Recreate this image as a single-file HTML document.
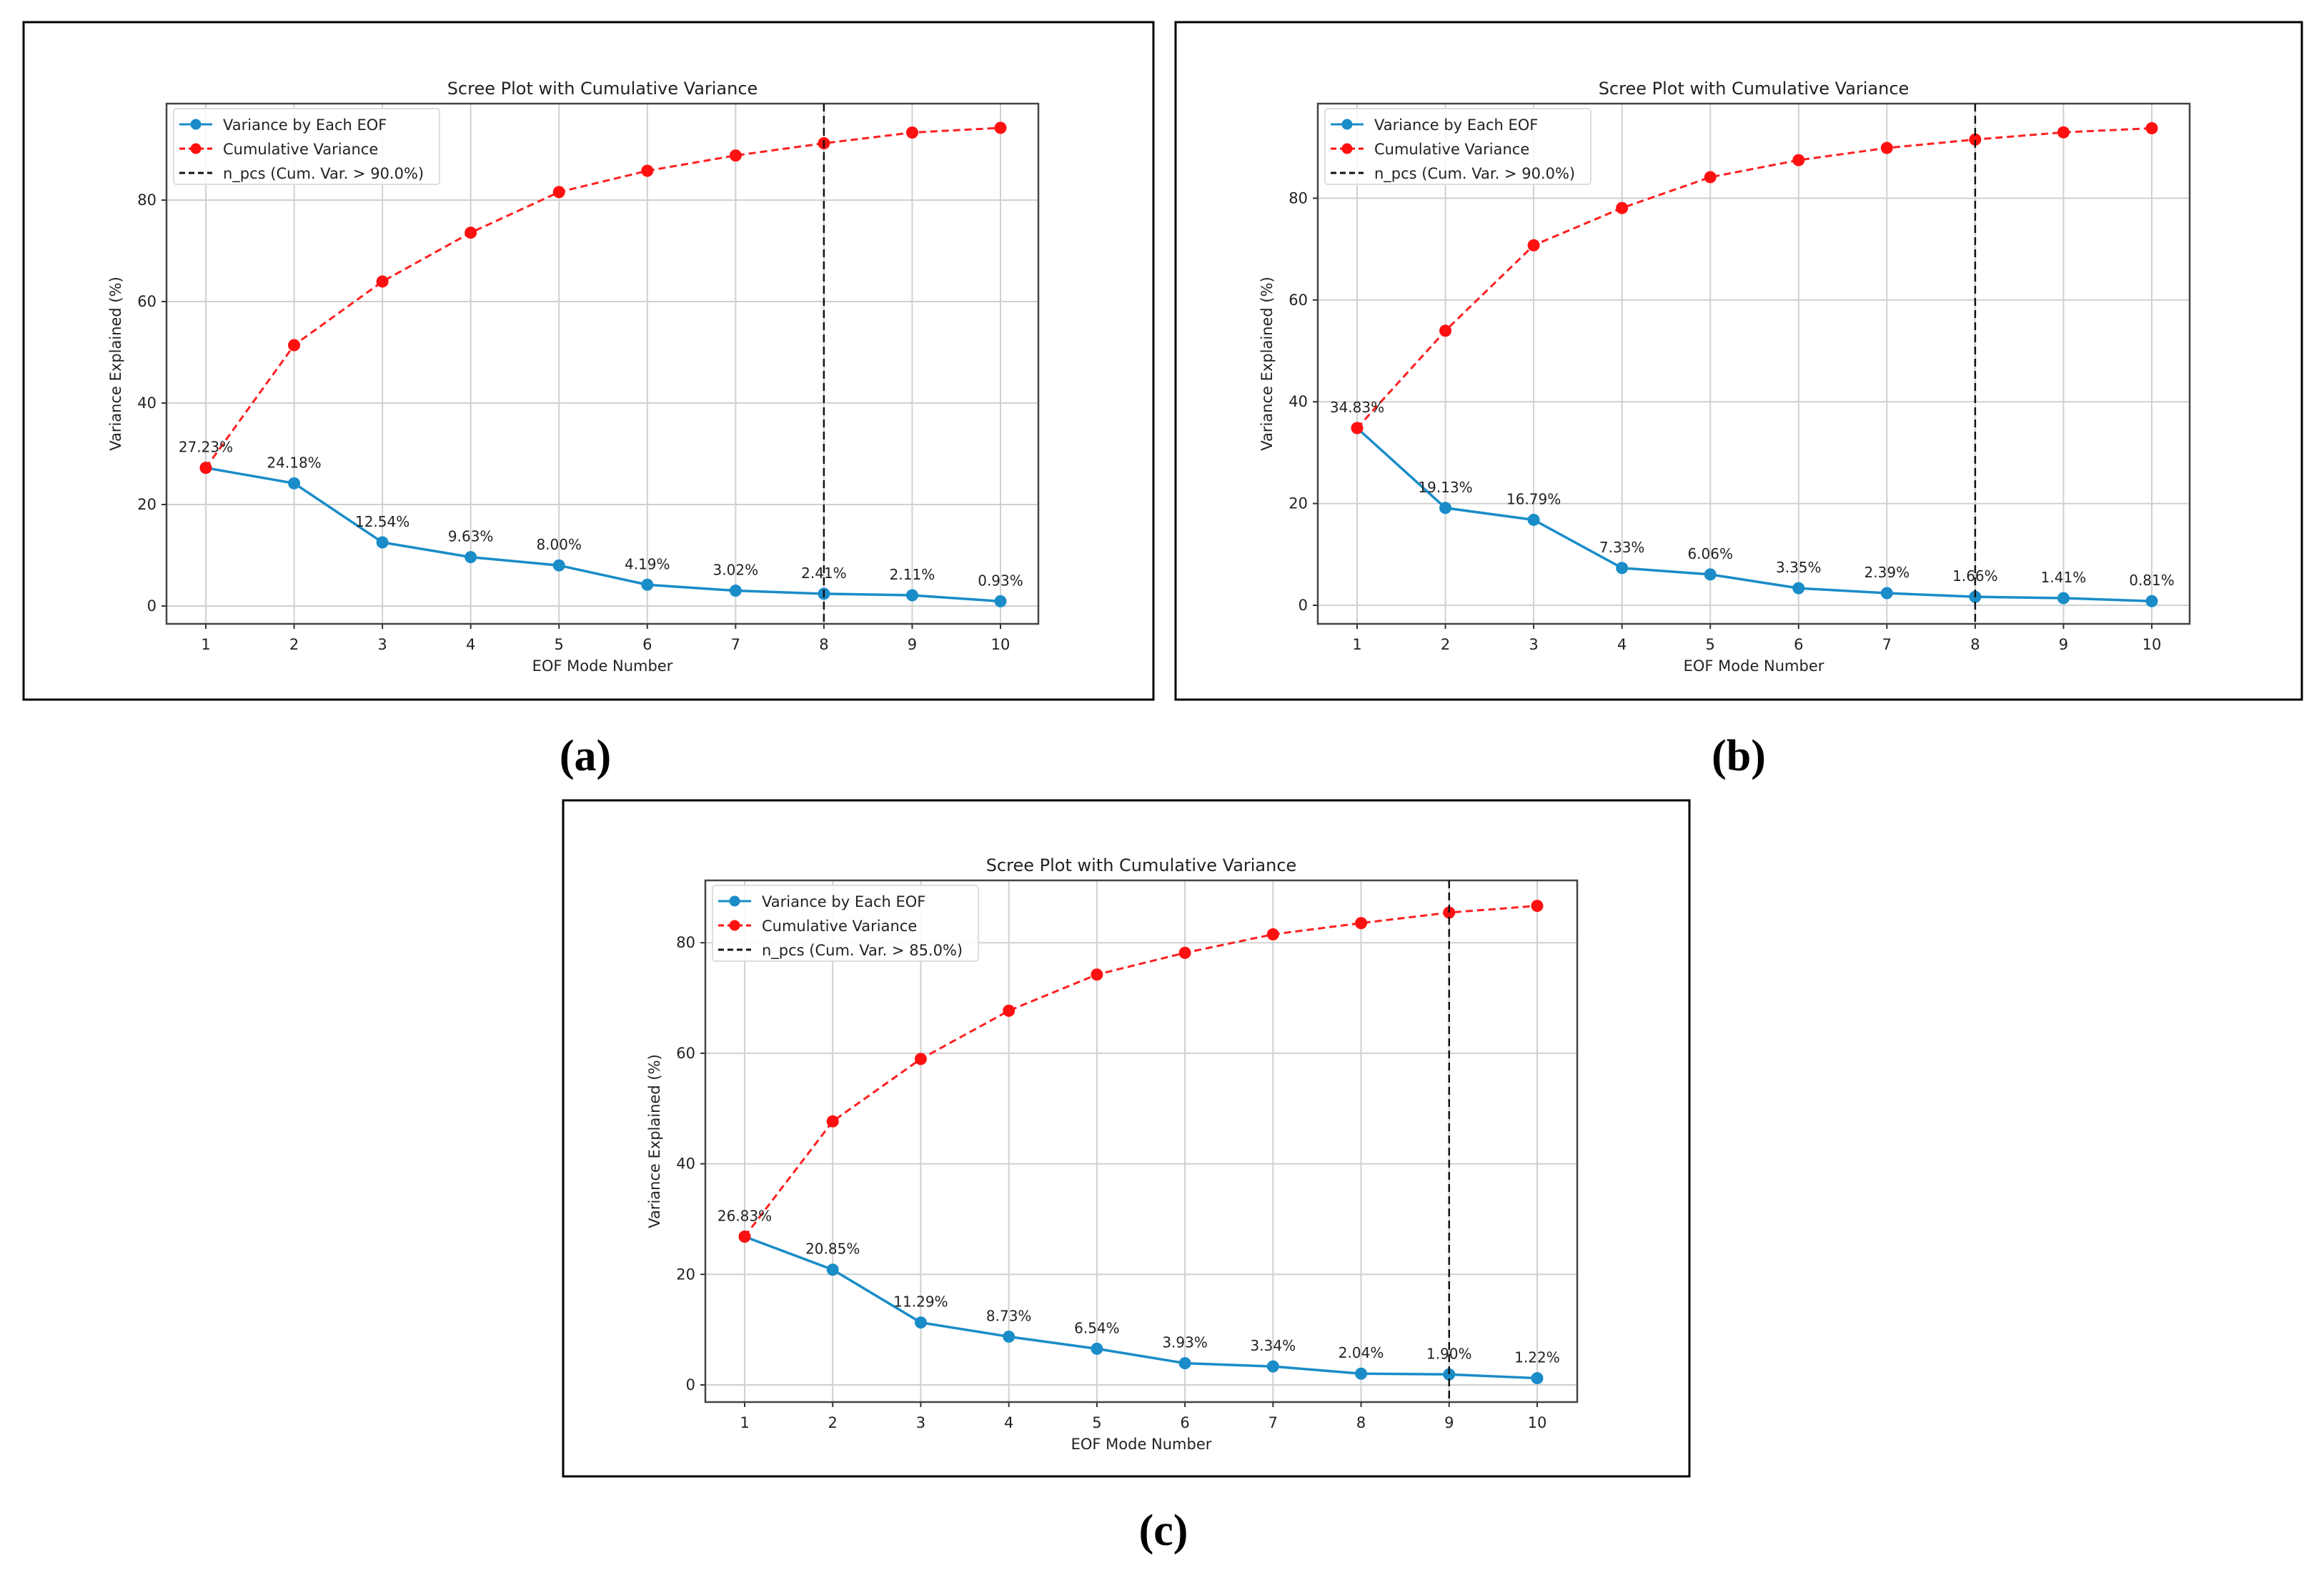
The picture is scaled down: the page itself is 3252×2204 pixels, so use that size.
<!DOCTYPE html>
<html><head><meta charset="utf-8"><style>
html,body{margin:0;padding:0;background:#fff;}
svg{display:block;font-family:"DejaVu Sans","Liberation Sans",sans-serif;}
</style></head><body>
<svg id="fig" width="3252" height="2204" viewBox="0 0 3252 2204" xmlns="http://www.w3.org/2000/svg"></svg>
<script>
const modes = [1,2,3,4,5,6,7,8,9,10];
const yTicks = [0,20,40,60,80];
const varA = [27.23,24.18,12.54,9.63,8.00,4.19,3.02,2.41,2.11,0.93];
const varB = [34.83,19.13,16.79,7.33,6.06,3.35,2.39,1.66,1.41,0.81];
const varC = [26.83,20.85,11.29,8.73,6.54,3.93,3.34,2.04,1.90,1.22];
const cutA = 8, cutB = 8, cutC = 9;
const thrA = "90.0", thrB = "90.0", thrC = "85.0";

const NS="http://www.w3.org/2000/svg";
const svg=document.getElementById('fig');
function mk(tag,attrs,parent,text){
  const e=document.createElementNS(NS,tag);
  for(const k in attrs) e.setAttribute(k,attrs[k]);
  if(text!==undefined) e.textContent=text;
  (parent||svg).appendChild(e);
  return e;
}
function panel(p){
  const g=mk('g',{});
  
  
  const box=mk('rect',{x:p.bx,y:p.by,width:p.bw,height:p.bh,fill:'#fff',stroke:'#000','stroke-width':3},g);
  
  
  const L=p.L,R=p.R,T=p.T,B=p.B;
  const xs=v=>p.x1+(v-1)*(p.x10-p.x1)/9;
  const ys=v=>p.y0-v*p.ppu;
  for(const m of modes){
    const l=mk('line',{x1:xs(m),x2:xs(m),y1:T,y2:B,stroke:'#d0d0d0','stroke-width':2},g);
    
    
    const t=mk('text',{x:xs(m),y:B+36,'font-size':21,'text-anchor':'middle',fill:'#222'},g,String(m));
    
    
    mk('line',{x1:xs(m),x2:xs(m),y1:B,y2:B+7,stroke:'#333','stroke-width':2},g);
  }
  for(const v of yTicks){
    const l=mk('line',{x1:L,x2:R,y1:ys(v),y2:ys(v),stroke:'#d0d0d0','stroke-width':2},g);
    
    
    mk('line',{x1:L-7,x2:L,y1:ys(v),y2:ys(v),stroke:'#333','stroke-width':2},g);
    const t=mk('text',{x:L-14,y:ys(v)+7,'font-size':21,'text-anchor':'end',fill:'#222'},g,String(v));
    
    
  }
  const ax=mk('rect',{x:L,y:T,width:R-L,height:B-T,fill:'none',stroke:'#444','stroke-width':2.5},g);
  
  
  const tt=mk('text',{x:(L+R)/2,y:T-13,'font-size':24,'text-anchor':'middle',fill:'#222'},g,'Scree Plot with Cumulative Variance');
  
  
  const xl=mk('text',{x:(L+R)/2,y:B+66,'font-size':21,'text-anchor':'middle',fill:'#222'},g,'EOF Mode Number');
  
  
  const yl=mk('text',{x:0,y:0,'font-size':21,'text-anchor':'middle',fill:'#222',transform:`translate(${L-64},${(T+B)/2}) rotate(-90)`},g,'Variance Explained (%)');
  
  
  const cum=[];let s=0;for(const v of p.vals){s+=v;cum.push(s);}
  const cl=mk('polyline',{points:modes.map((m,i)=>xs(m)+','+ys(cum[i])).join(' '),fill:'none',stroke:'#ff2020','stroke-width':3,'stroke-dasharray':'10,6'},g);
  
  
  const il=mk('polyline',{points:modes.map((m,i)=>xs(m)+','+ys(p.vals[i])).join(' '),fill:'none',stroke:'#1a8cc8','stroke-width':3.5},g);
  
  
  modes.forEach((m,i)=>{
    const c=mk('circle',{cx:xs(m),cy:ys(p.vals[i]),r:8.5,fill:'#1a8cc8'},g);
    
    
  });
  modes.forEach((m,i)=>{
    const c=mk('circle',{cx:xs(m),cy:ys(cum[i]),r:8.5,fill:'#ff1010'},g);
    
    
  });
  const cv=mk('line',{x1:xs(p.cut),x2:xs(p.cut),y1:T,y2:B,stroke:'#111','stroke-width':2.5,'stroke-dasharray':'11,6'},g);
  
  
  modes.forEach((m,i)=>{
    const t=mk('text',{x:xs(m),y:ys(p.vals[i])-22,'font-size':20,'text-anchor':'middle',fill:'#222'},g,p.vals[i].toFixed(2)+'%');
    
    
  });
  const lg=mk('g',{},g);
  
  
  const lx=L+10, ly=T+7;
  mk('rect',{x:lx,y:ly,width:372,height:106,rx:4,fill:'#fff','fill-opacity':0.85,stroke:'#ddd','stroke-width':2},lg);
  const items=[['Variance by Each EOF','#1a8cc8',null,true],['Cumulative Variance','#ff1010','8,5',true],['n_pcs (Cum. Var. > '+p.thr+'%)','#111','8,5',false]];
  items.forEach((it,k)=>{
    const yy=ly+22+k*34;
    const e=mk('g',{},lg);
    
    
    const a={x1:lx+8,x2:lx+54,y1:yy,y2:yy,stroke:it[1],'stroke-width':3};
    if(it[2]) a['stroke-dasharray']=it[2];
    mk('line',a,e);
    if(it[3]) mk('circle',{cx:lx+31,cy:yy,r:7.5,fill:it[1]},e);
    mk('text',{x:lx+69,y:yy+8,'font-size':21,fill:'#222'},e,it[0]);
  });
  const lab=mk('text',{x:p.labX,y:p.labY,'font-size':62,'font-weight':'bold','text-anchor':'middle','font-family':'"Liberation Serif",serif',fill:'#000'},g,p.lab);
  
  
}
panel({id:'a',vals:varA,cut:cutA,thr:thrA,bx:33,by:31,bw:1581,bh:948,L:233,R:1453,T:145,B:873,x1:288,x10:1400,y0:848,ppu:7.1,lab:'(a)',labX:819,labY:1078});
panel({id:'b',vals:varB,cut:cutB,thr:thrB,bx:1645,by:31,bw:1576,bh:948,L:1844,R:3064,T:145,B:873,x1:1899,x10:3011,y0:847,ppu:7.12,lab:'(b)',labX:2433,labY:1078});
panel({id:'c',vals:varC,cut:cutC,thr:thrC,bx:788,by:1120,bw:1576,bh:946,L:987,R:2207,T:1232,B:1962,x1:1042,x10:2151,y0:1938,ppu:7.735,lab:'(c)',labX:1628,labY:2162});
</script>
</body></html>
